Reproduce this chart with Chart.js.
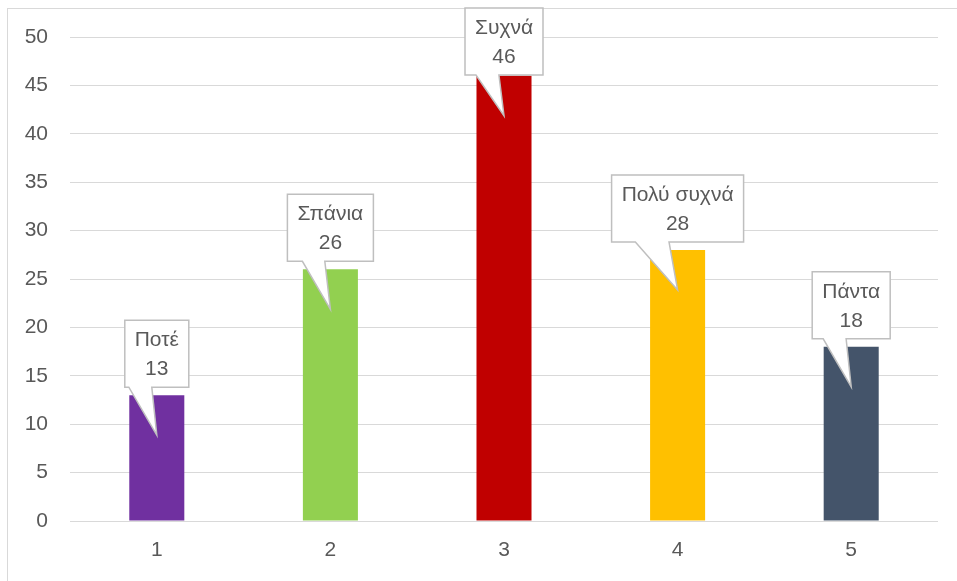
<!DOCTYPE html>
<html>
<head>
<meta charset="utf-8">
<script src="https://cdn.jsdelivr.net/npm/chart.js@4/dist/chart.umd.min.js"></script>
<style>
  html, body { margin: 0; padding: 0; background: #ffffff; }
  #wrap { width: 957px; height: 581px; }
</style>
</head>
<body>
<div id="wrap"><canvas id="c" width="957" height="581"></canvas></div>
<script>
// Answer categories (x axis) and how many responses each got
const categories = ['1', '2', '3', '4', '5'];
const answerNames = ['Ποτέ', 'Σπάνια', 'Συχνά', 'Πολύ συχνά', 'Πάντα'];
const counts = [13, 26, 46, 28, 18];
const barColors = ['#7030A0', '#92D050', '#C00000', '#FFC000', '#44546A'];
const yTicks = [0, 5, 10, 15, 20, 25, 30, 35, 40, 45, 50];

const FONT = '"Liberation Sans", Arial, sans-serif';
const TEXT = '#595959';
const GRID = '#D9D9D9';

// Light frame around the whole chart
const framePlugin = {
  id: 'frame',
  beforeDraw(chart) {
    const ctx = chart.ctx;
    ctx.save();
    ctx.fillStyle = '#ffffff';
    ctx.fillRect(0, 0, chart.width, chart.height);
    ctx.strokeStyle = GRID;
    ctx.lineWidth = 1;
    ctx.strokeRect(7.5, 8.5, chart.width + 20, chart.height + 20);
    ctx.restore();
  }
};

// Speech-bubble labels with the answer name and its count
const calloutPlugin = {
  id: 'callouts',
  afterDatasetsDraw(chart) {
    const ctx = chart.ctx;
    const meta = chart.getDatasetMeta(0);
    ctx.save();
    ctx.font = '21px ' + FONT;
    meta.data.forEach((bar, i) => {
      const cx = bar.x;
      const top = bar.y;
      const name = answerNames[i];
      const val = String(counts[i]);
      const tw = Math.max(ctx.measureText(name).width, ctx.measureText(val).width);
      const w = Math.round(tw + 20);
      const h = 67;
      const left = cx - w / 2;
      const right = cx + w / 2;
      const boxTop = Math.max(8, top - 8 - h);
      const boxBottom = boxTop + h;
      const tipY = top + 40;
      const baseL = cx - Math.max(28, w * 0.32);
      const baseR = cx - Math.max(5, w * 0.065);

      ctx.beginPath();
      ctx.moveTo(left, boxTop);
      ctx.lineTo(right, boxTop);
      ctx.lineTo(right, boxBottom);
      ctx.lineTo(baseR, boxBottom);
      ctx.lineTo(cx, tipY);
      ctx.lineTo(baseL, boxBottom);
      ctx.lineTo(left, boxBottom);
      ctx.closePath();
      ctx.fillStyle = '#ffffff';
      ctx.fill();
      ctx.strokeStyle = '#BFBFBF';
      ctx.lineWidth = 1.5;
      ctx.stroke();

      ctx.fillStyle = TEXT;
      ctx.textAlign = 'center';
      ctx.textBaseline = 'middle';
      ctx.fillText(name, cx, boxTop + 20);
      ctx.fillText(val, cx, boxTop + 49);
    });
    ctx.restore();
  }
};

new Chart(document.getElementById('c'), {
  type: 'bar',
  data: {
    labels: categories,
    datasets: [{
      data: counts,
      backgroundColor: barColors,
      borderWidth: 0,
      barPercentage: 0.317,
      categoryPercentage: 1
    }]
  },
  options: {
    responsive: false,
    animation: false,
    devicePixelRatio: 1,
    layout: { padding: { left: 0, right: 19, top: 37, bottom: 0 } },
    plugins: {
      legend: { display: false },
      tooltip: { enabled: false }
    },
    scales: {
      x: {
        grid: { display: false, drawTicks: false },
        border: { display: false },
        ticks: { color: TEXT, font: { family: FONT, size: 21 }, padding: 17 },
        afterFit(scale) { scale.height = 60; }
      },
      y: {
        min: 0,
        max: 50,
        afterBuildTicks(scale) { scale.ticks = yTicks.map(v => ({ value: v })); },
        grid: { color: GRID, lineWidth: 1, drawTicks: false },
        border: { display: false },
        ticks: { color: TEXT, font: { family: FONT, size: 21 }, padding: 22 },
        afterFit(scale) { scale.width = 70; }
      }
    }
  },
  plugins: [framePlugin, calloutPlugin]
});
</script>
</body>
</html>
